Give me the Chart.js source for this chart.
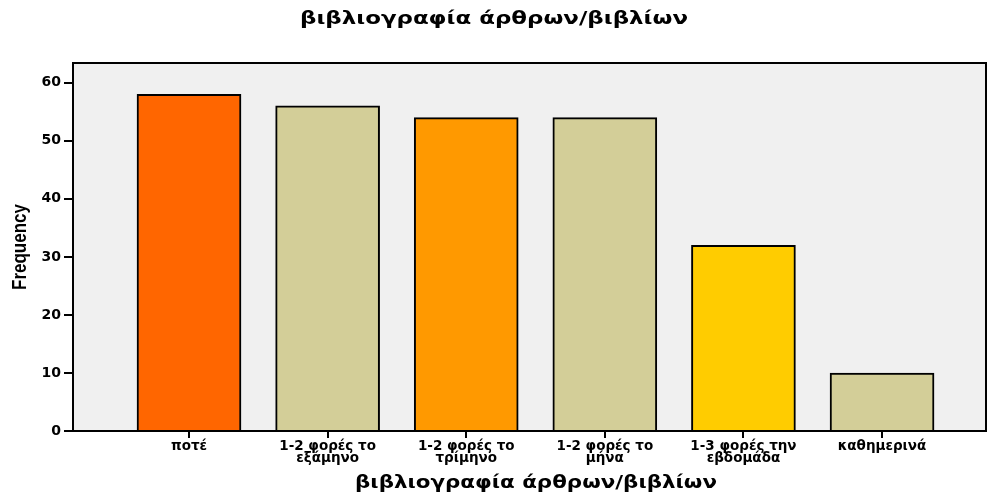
<!DOCTYPE html>
<html>
<head>
<meta charset="utf-8">
<script src="https://cdn.jsdelivr.net/npm/chart.js@4/dist/chart.umd.min.js"></script>
<style>
  body { margin: 0; background: #fff; }
</style>
</head>
<body>
<canvas id="chart" width="987" height="497"></canvas>
<script>
// data
const categories = ['ποτέ', ['1-2 φορές το', 'εξάμηνο'], ['1-2 φορές το', 'τρίμηνο'],
  ['1-2 φορές το', 'μήνα'], ['1-3 φορές την', 'εβδομάδα'], 'καθημερινά'];
const frequency = [58, 56, 54, 54, 32, 10];
const barColors = ['#ff6600', '#d3ce98', '#ff9900', '#d3ce98', '#ffcc00', '#d3ce98'];
const yTicks = [0, 10, 20, 30, 40, 50, 60];

const chartTitle = 'βιβλιογραφία άρθρων/βιβλίων';
const xTitle = 'βιβλιογραφία άρθρων/βιβλίων';
const yTitle = 'Frequency';

const boldFont = 'DejaVu Sans';

// draw text squeezed/stretched along its own direction to a given width
function drawFitted(c, text, x, y, font, width, angle) {
  c.save();
  c.font = font;
  const w = c.measureText(text).width;
  c.translate(x, y);
  if (angle) c.rotate(angle);
  c.scale(width / w, 1);
  c.textAlign = 'center';
  c.textBaseline = 'middle';
  c.fillStyle = '#000';
  c.fillText(text, 0, 0);
  c.restore();
}

// grey plot background, black frame, titles
const plotFrame = {
  id: 'plotFrame',
  beforeDraw(chart) {
    const a = chart.chartArea, c = chart.ctx;
    c.save();
    c.fillStyle = '#f0f0f0';
    c.fillRect(a.left, a.top, a.right - a.left, a.bottom - a.top);
    c.restore();
  },
  afterDatasetsDraw(chart) {
    const a = chart.chartArea, c = chart.ctx;
    c.save();
    c.strokeStyle = '#000';
    c.lineWidth = 2;
    c.strokeRect(a.left, a.top, a.right - a.left, a.bottom - a.top);
    c.restore();
  },
  afterDraw(chart) {
    const c = chart.ctx;
    drawFitted(c, chartTitle, 494, 20, 'bold 17px "DejaVu Sans"', 388, 0);
    drawFitted(c, xTitle, 536, 484, 'bold 17px "DejaVu Sans"', 362, 0);
    drawFitted(c, yTitle, 20, 247, 'bold 20px "Liberation Sans"', 86, -Math.PI / 2);
  }
};

const ctx = document.getElementById('chart').getContext('2d');
new Chart(ctx, {
  type: 'bar',
  data: {
    datasets: [{
      data: frequency.map((v, i) => ({ x: i, y: v })),
      backgroundColor: barColors,
      borderColor: '#000',
      borderWidth: 2,
      barThickness: 104
    }]
  },
  options: {
    responsive: false,
    animation: false,
    layout: { padding: { left: 0, right: 1, top: 63, bottom: 0 } },
    plugins: {
      legend: { display: false },
      tooltip: { enabled: false },
      title: { display: false }
    },
    scales: {
      x: {
        type: 'linear',
        offset: false,
        min: -0.837,
        max: 5.75,
        afterBuildTicks: s => { s.ticks = categories.map((c, i) => ({ value: i })); },
        afterFit: s => { s.height = 66; },
        border: { display: false },
        grid: { offset: false, drawOnChartArea: false, drawTicks: true, tickLength: 7, color: '#000', lineWidth: 2 },
        ticks: {
          color: '#000',
          padding: 2,
          maxRotation: 0,
          autoSkip: false,
          font: { family: boldFont, size: 13.5, weight: 'bold', lineHeight: 0.9 },
          callback: v => categories[v]
        }
      },
      y: {
        min: 0,
        max: 63.4,
        afterBuildTicks: s => { s.ticks = yTicks.map(v => ({ value: v })); },
        afterFit: s => { s.width = 73; },
        border: { display: false },
        grid: { drawOnChartArea: false, drawTicks: true, tickLength: 9, color: '#000', lineWidth: 2 },
        ticks: {
          color: '#000',
          padding: 3,
          font: { family: boldFont, size: 14, weight: 'bold' }
        }
      }
    }
  },
  plugins: [plotFrame]
});
</script>
</body>
</html>
